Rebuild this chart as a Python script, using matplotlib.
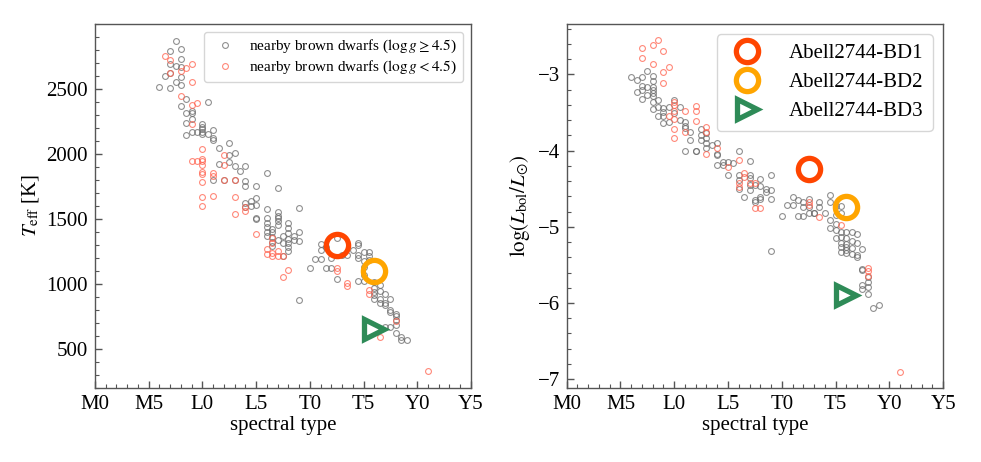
import matplotlib
matplotlib.use("Agg")
import matplotlib.pyplot as plt
import numpy as np

plt.rcParams['font.family'] = ['Liberation Serif', 'DejaVu Serif']
plt.rcParams['mathtext.fontset'] = 'stix'

# spectral type index: M0=0, M5=5, L0=10, L5=15, T0=20, T5=25, Y0=30, Y5=35
tick_labels = ['M0', 'M5', 'L0', 'L5', 'T0', 'T5', 'Y0', 'Y5']
tick_pos = [0, 5, 10, 15, 20, 25, 30, 35]

# ---- Teff panel: high gravity (grey) ----
teff_hi_sp = [7.5, 7, 8, 8, 7, 7.5, 8, 7, 6.5, 8, 7.5, 8, 6, 7, 8.5, 10.5, 8, 9, 9, 8.5, 9, 8.5,
              10, 10, 10, 11, 9, 9.5, 10, 8.5, 10.5, 10, 11, 11, 11.5, 12.5, 12.5, 13, 11.5, 12.5,
              13, 14, 13.5, 16, 11, 12, 13, 14, 14, 15, 17, 14, 14.5, 15, 14, 14.5, 15, 16, 17, 17,
              19, 15, 16, 15, 16, 16, 16, 16, 16.5, 16.5, 16.5, 16.5, 16.5, 17, 17, 17, 17, 17.5,
              17.5, 17.5, 18, 18, 18, 18, 18, 18, 18, 18.5, 18.5, 19, 19, 19, 20, 20.5, 21, 21, 21,
              21.5, 21.5, 22, 22, 22.5, 22.5, 23, 23.5, 24, 24.5, 24.5, 24.5, 24.5, 24.5, 25, 25,
              25, 25, 25, 25.5, 25.5, 25.5, 26, 26, 26, 26, 26, 26.5, 26.5, 26.5, 26.5, 27, 27, 27,
              27.5, 27.5, 27.5, 28, 28, 28, 28, 27.5, 27, 28, 28.5, 28.5, 29]
teff_hi_val = [2870, 2790, 2810, 2730, 2690, 2675, 2670, 2620, 2600, 2590, 2555, 2530, 2515, 2510,
               2420, 2400, 2365, 2330, 2315, 2315, 2270, 2240, 2230, 2210, 2190, 2185, 2170, 2170,
               2170, 2145, 2155, 2155, 2125, 2105, 2045, 2080, 1995, 2005, 1925, 1935, 1910, 1910,
               1865, 1850, 1800, 1800, 1800, 1790, 1755, 1755, 1740, 1625, 1640, 1660, 1590, 1600,
               1610, 1575, 1555, 1510, 1580, 1505, 1505, 1500, 1470, 1440, 1400, 1365, 1425, 1395,
               1360, 1320, 1290, 1520, 1485, 1450, 1340, 1370, 1310, 1215, 1465, 1430, 1390, 1345,
               1310, 1280, 1255, 1365, 1340, 1400, 1330, 875, 1125, 1190, 1190, 1260, 1305, 1285,
               1125, 1125, 1195, 1350, 1040, 1225, 1225, 1260, 1310, 1295, 1225, 1195, 1020, 1245,
               1175, 1130, 1070, 1020, 1245, 1210, 1180, 1015, 970, 940, 910, 880, 990, 945, 880,
               855, 920, 850, 840, 880, 800, 780, 770, 755, 680, 720, 665, 665, 620, 590, 570, 565]

# ---- Teff panel: low gravity (red) ----
teff_lo_sp = [6.5, 7, 8.5, 9, 8, 7, 9, 8, 9, 9.5, 9, 10, 12, 9, 9.5, 10, 10, 10, 12, 10, 10, 11,
              11, 10, 12, 13, 10, 10, 11, 13, 13, 14, 14, 15, 16, 16, 16.5, 16.5, 16.5, 16.5, 17,
              17, 17.5, 18, 17.5, 22.5, 22.5, 23.5, 23.5, 25.5, 25.5, 28, 26.5, 31]
teff_lo_val = [2755, 2720, 2665, 2690, 2640, 2625, 2550, 2445, 2375, 2390, 2230, 2040, 1990, 1945,
               1945, 1960, 1945, 1915, 1915, 1860, 1845, 1850, 1830, 1785, 1800, 1800, 1665, 1600,
               1675, 1665, 1535, 1590, 1560, 1380, 1265, 1230, 1350, 1315, 1240, 1210, 1255, 1210,
               1215, 1105, 1050, 1125, 1100, 1005, 980, 950, 920, 715, 590, 330]

# ---- Lbol panel: high gravity (grey) ----
lbol_hi_sp = [6, 6.5, 7, 7.5, 8, 8, 6.5, 7, 7, 7, 7.5, 7.5, 8, 8, 8, 8, 8, 8.5, 8, 8.5, 8.5, 9, 9,
              9, 9, 9.5, 9.5, 10, 10, 10.5, 10.5, 11, 11, 11, 11.5, 11.5, 11, 12, 12, 12.5, 12.5,
              12.5, 13, 13, 13, 13.5, 14, 14, 14, 13, 14, 14.5, 14.5, 15, 15, 15.5, 16, 17, 16, 16,
              16, 16.5, 17, 17, 17, 17, 17.5, 17.5, 17.5, 18, 18, 18, 18, 18.5, 18.5, 19, 19, 19,
              20, 20.5, 21, 21, 21.5, 22, 22, 22.5, 22.5, 23, 23.5, 23.5, 24, 24.5, 24.5, 25, 25,
              25.5, 25.5, 21.5, 22, 22.5, 23, 24.5, 25, 24.5, 25, 25.5, 25.5, 26, 26.5, 27, 25,
              25.5, 25.5, 26, 26, 26, 26, 26.5, 26.5, 26.5, 27, 27, 27, 27.5, 25.5, 26, 27.5, 27.5,
              28, 28, 28, 28, 27.5, 27.5, 28.5, 29, 19]
lbol_hi_val = [-3.03, -3.08, -3.04, -2.95, -3.02, -3.09, -3.23, -3.15, -3.20, -3.32, -3.16, -3.27,
               -3.16, -3.20, -3.24, -3.29, -3.36, -3.34, -3.46, -3.43, -3.55, -3.44, -3.50, -3.55,
               -3.64, -3.43, -3.62, -3.34, -3.51, -3.43, -3.60, -3.63, -3.68, -3.70, -3.75, -3.86,
               -4.00, -4.00, -4.01, -3.72, -3.79, -3.86, -3.77, -3.84, -3.90, -3.93, -3.90, -4.04,
               -4.06, -3.97, -4.19, -4.15, -4.19, -4.15, -4.32, -4.16, -4.01, -4.14, -4.32, -4.39,
               -4.50, -4.61, -4.32, -4.36, -4.45, -4.52, -4.45, -4.65, -4.68, -4.37, -4.47, -4.61,
               -4.64, -4.50, -4.54, -4.32, -4.52, -4.64, -4.86, -4.71, -4.61, -4.71, -4.65, -4.68,
               -4.74, -4.63, -4.74, -4.82, -4.68, -4.74, -4.82, -4.58, -4.68, -4.85, -4.73, -4.73,
               -4.82, -4.86, -4.86, -4.82, -4.82, -4.91, -4.96, -5.01, -5.04, -5.07, -5.13, -5.07,
               -5.07, -5.09, -5.15, -5.21, -5.26, -5.15, -5.22, -5.26, -5.31, -5.18, -5.28, -5.36,
               -5.21, -5.37, -5.39, -5.29, -5.33, -5.35, -5.55, -5.57, -5.66, -5.72, -5.79, -5.88,
               -5.77, -5.81, -6.07, -6.02, -5.32]

# ---- Lbol panel: low gravity (red) ----
lbol_lo_sp = [7, 7, 8, 8.5, 9, 8, 9, 9.5, 9, 10, 10, 10, 10, 10, 10, 9.5, 11, 12, 12, 12, 11, 13,
              13, 13, 14, 15, 16, 16.5, 16.5, 17, 17.5, 16, 16, 17.5, 18, 22.5, 22.5, 23.5, 25.5,
              28, 28, 28, 31]
lbol_lo_val = [-2.66, -2.79, -2.61, -2.55, -2.70, -2.87, -2.97, -2.90, -3.12, -3.36, -3.40, -3.48,
               -3.58, -3.72, -3.84, -3.55, -3.48, -3.41, -3.48, -3.61, -3.76, -3.69, -3.75, -4.04,
               -3.97, -4.21, -4.13, -4.29, -4.35, -4.43, -4.43, -4.42, -4.48, -4.75, -4.75, -4.68,
               -4.72, -4.87, -4.98, -5.54, -5.58, -5.64, -6.90]

# ---- Abell2744 brown dwarfs ----
bd_names = ['Abell2744-BD1', 'Abell2744-BD2', 'Abell2744-BD3']
bd_sp = [22.5, 26.0, 26.0]
bd_teff = [1300, 1100, 650]
bd_lbol = [-4.24, -4.74, -5.89]
bd_colors = ['orangered', 'orange', 'seagreen']
bd_markers = ['o', 'o', '>']
bd_ms = [16, 16, 15]

fig = plt.figure(figsize=(9.81, 4.62), dpi=100)
ax1 = fig.add_axes([0.0968, 0.161, 0.3833, 0.787])
ax2 = fig.add_axes([0.5777, 0.161, 0.3836, 0.787])

small_kw = dict(ls='none', marker='o', ms=4.2, mfc='none', mew=0.8)
grey_c = (0.42, 0.42, 0.42, 0.75)
red_c = (1.0, 0.38, 0.30, 0.75)

for ax in (ax1, ax2):
    for s in ax.spines.values():
        s.set_color('#555555')
        s.set_linewidth(1.0)
    ax.set_xlim(0, 35)
    ax.set_xticks(tick_pos)
    ax.set_xticklabels(tick_labels)
    ax.set_xticks(np.arange(0, 36, 1), minor=True)
    ax.tick_params(which='both', direction='in', top=False, right=False,
                   color='#555555', labelsize=15, pad=5)
    ax.tick_params(which='major', length=5, width=1)
    ax.tick_params(which='minor', length=3, width=0.8)
    ax.set_xlabel('spectral type', fontsize=15, labelpad=2)

# left panel
ax1.plot(teff_hi_sp, teff_hi_val, mec=grey_c, label=r'nearby brown dwarfs ($\log g \geq 4.5$)', **small_kw)
ax1.plot(teff_lo_sp, teff_lo_val, mec=red_c, label=r'nearby brown dwarfs ($\log g < 4.5$)', **small_kw)
for x, y, c, m, s in zip(bd_sp, bd_teff, bd_colors, bd_markers, bd_ms):
    ax1.plot([x], [y], ls='none', marker=m, ms=s, mfc='none', mec=c, mew=3.8)
ax1.set_ylim(200, 3000)
ax1.set_yticks([500, 1000, 1500, 2000, 2500])
ax1.set_yticks(np.arange(200, 3001, 100), minor=True)
ax1.set_ylabel(r'$T_{\rm eff}$ [K]', fontsize=15, labelpad=4)
ax1.legend(loc='upper right', fontsize=11, handletextpad=0.6, borderpad=0.4,
           labelspacing=0.25, framealpha=0.8, edgecolor='#cccccc')

# right panel
ax2.plot(lbol_hi_sp, lbol_hi_val, mec=grey_c, **small_kw)
ax2.plot(lbol_lo_sp, lbol_lo_val, mec=red_c, **small_kw)
for x, y, c, m, s, n in zip(bd_sp, bd_lbol, bd_colors, bd_markers, bd_ms, bd_names):
    ax2.plot([x], [y], ls='none', marker=m, ms=s, mfc='none', mec=c, mew=3.8, label=n)
ax2.set_ylim(-7.11, -2.34)
ax2.set_yticks([-7, -6, -5, -4, -3])
ax2.set_yticks(np.arange(-7.0, -2.3, 0.2), minor=True)
ax2.set_ylabel(r'$\log(L_{\rm bol}/L_{\odot})$', fontsize=15, labelpad=4)
ax2.legend(loc='upper right', fontsize=15, handletextpad=1.0, borderpad=0.45,
           labelspacing=0.45, framealpha=0.8, edgecolor='#cccccc')

fig.savefig('out.png', dpi=100)
